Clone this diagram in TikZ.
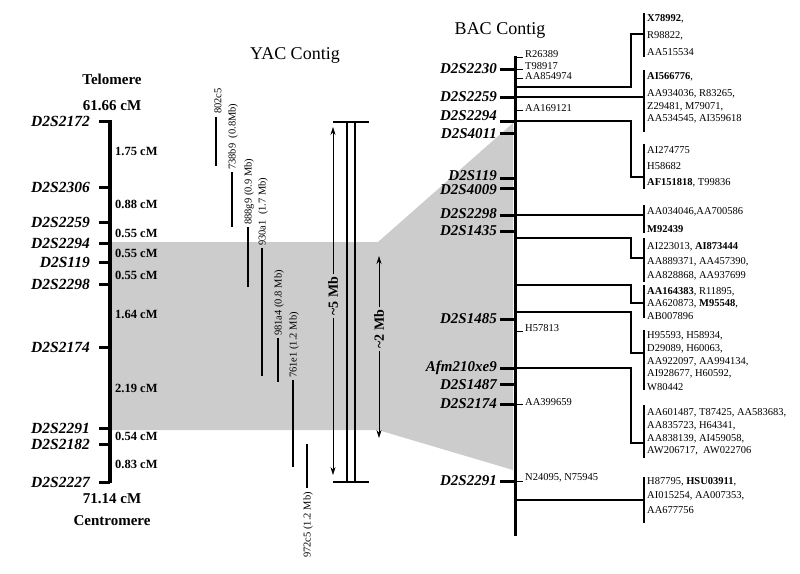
\documentclass[tikz,border=0pt]{standalone}
\usepackage{fontspec}
\setmainfont{Liberation Serif}
\usetikzlibrary{arrows.meta}
\tikzstyle{marker}=[font=\fontsize{15.5}{16}\selectfont\bfseries\itshape, anchor=east, inner sep=0pt]
\tikzstyle{bacmarker}=[font=\fontsize{15}{15}\selectfont\bfseries\itshape, anchor=east, inner sep=0pt]
\tikzstyle{dist}=[font=\fontsize{12.5}{13}\selectfont\bfseries, anchor=west, inner sep=0pt]
\tikzstyle{endlabel}=[font=\fontsize{15}{15}\selectfont\bfseries, inner sep=0pt]
\tikzstyle{title}=[font=\fontsize{18}{18}\selectfont, inner sep=0pt]
\tikzstyle{est}=[font=\fontsize{10.5}{12}\selectfont, anchor=west, inner sep=0pt]
\tikzstyle{clone}=[font=\fontsize{10.5}{10}\selectfont, rotate=90, anchor=west, inner sep=0pt]
\tikzstyle{size}=[font=\fontsize{14}{14}\selectfont\bfseries, rotate=90, inner sep=2pt]
\tikzstyle{tick}=[line width=3pt]
\tikzstyle{link}=[line width=1.2pt]
\tikzstyle{sizearrow}=[line width=0.5pt, -{Stealth[length=8pt, width=5pt]}]

\begin{document}
\begin{tikzpicture}[x=1pt, y=-1pt]
    \useasboundingbox (0,0) rectangle (800,573);
% Shaded region
    \fill[black!20] (112,242) -- (378,242) -- (513,123) -- (513,470) -- (378,430) -- (112,430) -- cycle;
% Genetic map
    \node[endlabel] (telo) at (112,79) {Telomere};
    \node[endlabel] (top) at (112,106) {61.66 cM};
    \node[endlabel] (bottom) at (112,499) {71.14 cM};
    \node[endlabel] (centro) at (112,521) {Centromere};
    \draw[line width=3.5pt] (110,120) -- (110,483);
    \draw[tick] (99,121) -- (110,121);
    \draw[tick] (99,187) -- (110,187);
    \draw[tick] (99,222) -- (110,222);
    \draw[tick] (99,243) -- (110,243);
    \draw[tick] (99,262) -- (110,262);
    \draw[tick] (99,284) -- (110,284);
    \draw[tick] (99,347) -- (110,347);
    \draw[tick] (99,428) -- (110,428);
    \draw[tick] (99,444) -- (110,444);
    \draw[tick] (99,482) -- (110,482);
    \node[marker] (g2172) at (90,121) {D2S2172};
    \node[marker] (g2306) at (90,187) {D2S2306};
    \node[marker] (g2259) at (90,222) {D2S2259};
    \node[marker] (g2294) at (90,243) {D2S2294};
    \node[marker] (g119) at (90,262) {D2S119};
    \node[marker] (g2298) at (90,284) {D2S2298};
    \node[marker] (g2174) at (90,347) {D2S2174};
    \node[marker] (g2291) at (90,428) {D2S2291};
    \node[marker] (g2182) at (90,444) {D2S2182};
    \node[marker] (g2227) at (90,482) {D2S2227};
    \node[dist] (d1) at (115,151) {1.75 cM};
    \node[dist] (d2) at (115,204) {0.88 cM};
    \node[dist] (d3) at (115,233) {0.55 cM};
    \node[dist] (d4) at (115,253) {0.55 cM};
    \node[dist] (d5) at (115,275) {0.55 cM};
    \node[dist] (d6) at (115,314) {1.64 cM};
    \node[dist] (d7) at (115,388) {2.19 cM};
    \node[dist] (d8) at (115,436) {0.54 cM};
    \node[dist] (d9) at (115,464) {0.83 cM};
% YAC contig
    \node[title] (yac) at (295,55) {YAC Contig};
    \draw[line width=2.5pt] (216,117) -- (216,166);
    \draw[line width=2.5pt] (232,172) -- (232,227);
    \draw[line width=2.5pt] (248,227) -- (248,287);
    \draw[line width=2.5pt] (262,248) -- (262,376);
    \draw[line width=2.5pt] (278,338) -- (278,382);
    \draw[line width=2.5pt] (293,380) -- (293,467);
    \draw[line width=2.5pt] (307,444) -- (307,488);
    \node[clone] (y802) at (218,114) {802c5};
    \node[clone] (y738) at (233,170) {738b9 \ (0.8Mb)};
    \node[clone] (y888) at (249,225) {888g9 (0.9 Mb)};
    \node[clone] (y930) at (263,246) {930a1 \ (1.7 Mb)};
    \node[clone] (y981) at (279,336) {981a4 (0.8 Mb)};
    \node[clone] (y761) at (294,378) {761e1 (1.2 Mb)};
    \node[clone, anchor=east] (y972) at (308,492) {972c5 (1.2 Mb)};
    \draw[line width=2.5pt] (347,122) -- (347,482);
    \draw[line width=2.5pt] (355,122) -- (355,482);
    \draw[line width=2.5pt] (333,122) -- (369,122);
    \draw[line width=2.5pt] (333,482) -- (369,482);
    \node[size] (five) at (333,296) {\textasciitilde5 Mb};
    \coordinate (fivetop) at (333,127);
    \coordinate (fivebot) at (333,475);
    \draw[sizearrow] (five) -- (fivetop);
    \draw[sizearrow] (five) -- (fivebot);
    \node[size] (two) at (379,329) {\textasciitilde2 Mb};
    \coordinate (twotop) at (379,256);
    \coordinate (twobot) at (379,438);
    \draw[sizearrow] (two) -- (twotop);
    \draw[sizearrow] (two) -- (twobot);
% BAC contig
    \node[title] (bac) at (500,30) {BAC Contig};
    \draw[line width=3pt] (515,56) -- (515,536);
    \draw[tick] (500,69) -- (515,69);
    \draw[tick] (500,97) -- (515,97);
    \draw[tick] (500,121) -- (515,121);
    \draw[tick] (500,133) -- (515,133);
    \draw[tick] (500,178) -- (515,178);
    \draw[tick] (500,188) -- (515,188);
    \draw[tick] (500,215) -- (515,215);
    \draw[tick] (500,231) -- (515,231);
    \draw[tick] (500,319) -- (515,319);
    \draw[tick] (500,368) -- (515,368);
    \draw[tick] (500,384) -- (515,384);
    \draw[tick] (500,404) -- (515,404);
    \draw[tick] (500,481) -- (515,481);
    \node[bacmarker] (b2230) at (497,69) {D2S2230};
    \node[bacmarker] (b2259) at (497,97) {D2S2259};
    \node[bacmarker] (b2294) at (497,116) {D2S2294};
    \node[bacmarker] (b4011) at (497,134) {D2S4011};
    \node[bacmarker] (b119) at (497,176) {D2S119};
    \node[bacmarker] (b4009) at (497,190) {D2S4009};
    \node[bacmarker] (b2298) at (497,214) {D2S2298};
    \node[bacmarker] (b1435) at (497,231) {D2S1435};
    \node[bacmarker] (b1485) at (497,319) {D2S1485};
    \node[bacmarker] (bafm) at (497,368) {Afm210xe9};
    \node[bacmarker] (b1487) at (497,385) {D2S1487};
    \node[bacmarker] (b2174) at (497,404) {D2S2174};
    \node[bacmarker] (b2291) at (497,481) {D2S2291};
% ESTs on the BAC contig
    \draw[line width=1pt] (515,57) -- (523,57);
    \draw[line width=1pt] (515,69) -- (523,69);
    \draw[line width=1pt] (515,78) -- (523,78);
    \draw[line width=1pt] (515,110) -- (523,110);
    \draw[line width=1pt] (515,331) -- (523,331);
    \draw[line width=1pt] (515,404) -- (523,404);
    \draw[line width=1pt] (515,481) -- (523,481);
    \node[est] (s1) at (525,54) {R26389};
    \node[est] (s2) at (525,66) {T98917};
    \node[est] (s3) at (525,76) {AA854974};
    \node[est] (s4) at (525,108) {AA169121};
    \node[est] (s5) at (525,328) {H57813};
    \node[est] (s6) at (525,402) {AA399659};
    \node[est] (s7) at (525,478) {N24095, N75945};
% Connectors to the EST groups
    \coordinate (a1) at (515,87);
    \coordinate (a2) at (515,97);
    \coordinate (a3) at (515,121);
    \coordinate (a4) at (515,215);
    \coordinate (a5) at (515,238);
    \coordinate (a6) at (515,285);
    \coordinate (a7) at (515,312);
    \coordinate (a8) at (515,368);
    \coordinate (a9) at (515,500);
    \coordinate (j1) at (644,34);
    \coordinate (j2) at (644,97);
    \coordinate (j3) at (644,177);
    \coordinate (j4) at (644,215);
    \coordinate (j5) at (644,258);
    \coordinate (j6) at (644,303);
    \coordinate (j7) at (644,353);
    \coordinate (j8) at (644,443);
    \coordinate (j9) at (644,500);
    \draw[link] (a1) -- ++(116,0) |- (j1);
    \draw[link] (a2) -- (j2);
    \draw[link] (a3) -- ++(116,0) |- (j3);
    \draw[link] (a4) -- (j4);
    \draw[link] (a5) -- ++(116,0) |- (j5);
    \draw[link] (a6) -- ++(116,0) |- (j6);
    \draw[link] (a7) -- ++(116,0) |- (j7);
    \draw[link] (a8) -- ++(116,0) |- (j8);
    \draw[link] (a9) -- (j9);
    \draw[link] (644,13) -- (644,57);
    \draw[link] (644,70) -- (644,132);
    \draw[link] (644,144) -- (644,189);
    \draw[link] (644,205) -- (644,233);
    \draw[link] (644,238) -- (644,282);
    \draw[link] (644,285) -- (644,318);
    \draw[link] (644,330) -- (644,390);
    \draw[link] (644,405) -- (644,458);
    \draw[link] (644,477) -- (644,523);
% EST groups
    \node[est] (e1a) at (647,19) {\textbf{X78992},};
    \node[est] (e1b) at (647,36) {R98822,};
    \node[est] (e1c) at (647,52) {AA515534};
    \node[est] (e2a) at (647,77) {\textbf{AI566776},};
    \node[est] (e2b) at (647,94) {AA934036, R83265,};
    \node[est] (e2c) at (647,107) {Z29481, M79071,};
    \node[est] (e2d) at (647,119) {AA534545, AI359618};
    \node[est] (e3a) at (647,150) {AI274775};
    \node[est] (e3b) at (647,166) {H58682};
    \node[est] (e3c) at (647,183) {\textbf{AF151818}, T99836};
    \node[est] (e4a) at (647,212) {AA034046,AA700586};
    \node[est] (e4b) at (647,229) {\textbf{M92439}};
    \node[est] (e5a) at (647,247) {AI223013, \textbf{AI873444}};
    \node[est] (e5b) at (647,262) {AA889371, AA457390,};
    \node[est] (e5c) at (647,276) {AA828868, AA937699};
    \node[est] (e6a) at (647,292) {\textbf{AA164383}, R11895,};
    \node[est] (e6b) at (647,304) {AA620873, \textbf{M95548},};
    \node[est] (e6c) at (647,316) {AB007896};
    \node[est] (e7a) at (647,336) {H95593, H58934,};
    \node[est] (e7b) at (647,349) {D29089, H60063,};
    \node[est] (e7c) at (647,362) {AA922097, AA994134,};
    \node[est] (e7d) at (647,374) {AI928677, H60592,};
    \node[est] (e7e) at (647,387) {W80442};
    \node[est] (e8a) at (647,413) {AA601487, T87425, AA583683,};
    \node[est] (e8b) at (647,426) {AA835723, H64341,};
    \node[est] (e8c) at (647,439) {AA838139, AI459058,};
    \node[est] (e8d) at (647,451) {AW206717, \ AW022706};
    \node[est] (e9a) at (647,482) {H87795, \textbf{HSU03911},};
    \node[est] (e9b) at (647,496) {AI015254, AA007353,};
    \node[est] (e9c) at (647,510) {AA677756};
\end{tikzpicture}
\end{document}
